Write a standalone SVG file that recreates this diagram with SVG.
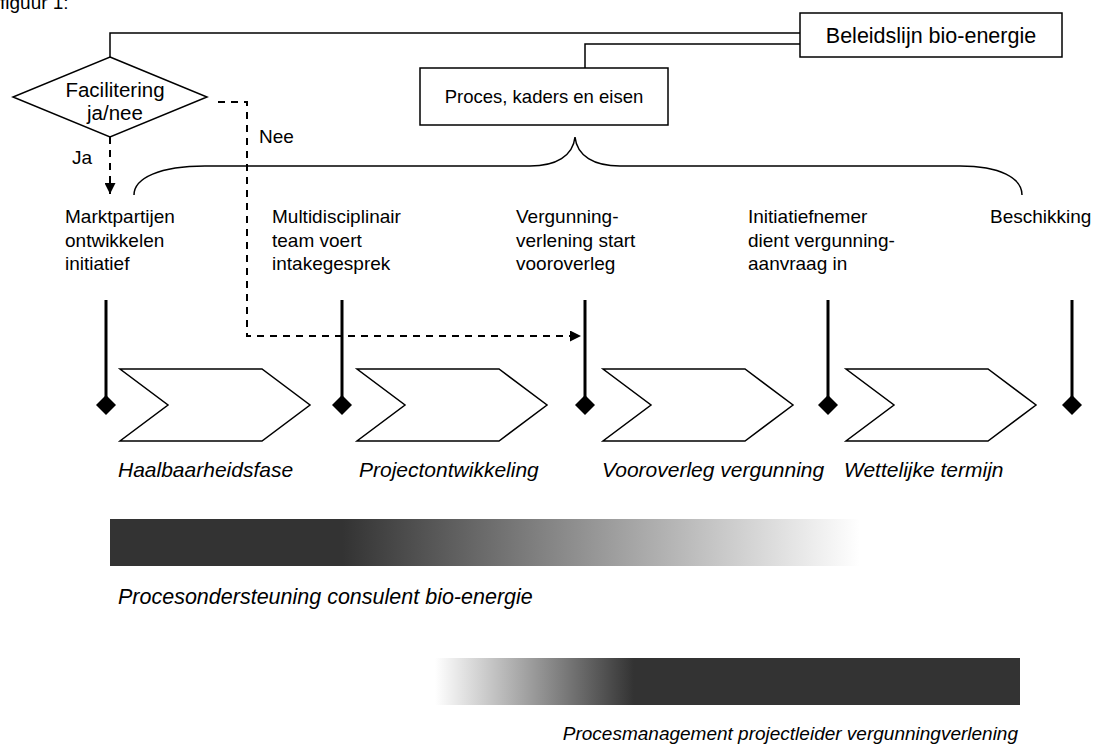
<svg xmlns="http://www.w3.org/2000/svg" width="1116" height="747" viewBox="0 0 1116 747">
<defs>
<style>
.t{font-family:"Liberation Sans",Arial,sans-serif;font-size:19px;fill:#000}
.i{font-family:"Liberation Sans",Arial,sans-serif;font-size:21px;font-style:italic;fill:#000}
.box{fill:#fff;stroke:#000;stroke-width:1.5}
.ln{fill:none;stroke:#000;stroke-width:1.5}
.dash{fill:none;stroke:#000;stroke-width:2;stroke-dasharray:7,6}
.thick{fill:none;stroke:#000;stroke-width:3}
.chev{fill:#fff;stroke:#000;stroke-width:1.5}
</style>
<marker id="arr" viewBox="0 0 10 10" refX="10" refY="5" markerWidth="11" markerHeight="11" markerUnits="userSpaceOnUse" orient="auto">
<path d="M0,0 L10,5 L0,10 Z" fill="#000"/>
</marker>
<marker id="dia" viewBox="0 0 20 20" refX="10" refY="10" markerWidth="20" markerHeight="20" markerUnits="userSpaceOnUse" orient="0">
<path d="M10,0 L20,10 L10,20 L0,10 Z" fill="#000"/>
</marker>
<linearGradient id="g1" x1="110" y1="0" x2="860" y2="0" gradientUnits="userSpaceOnUse">
<stop offset="0" stop-color="#333"/>
<stop offset="0.31" stop-color="#333"/>
<stop offset="1" stop-color="#fff"/>
</linearGradient>
<linearGradient id="g2" x1="435" y1="0" x2="1020" y2="0" gradientUnits="userSpaceOnUse">
<stop offset="0" stop-color="#fff"/>
<stop offset="0.34" stop-color="#333"/>
<stop offset="1" stop-color="#333"/>
</linearGradient>
</defs>
<rect width="1116" height="747" fill="#fff"/>
<text class="t" x="0" y="9" style="font-size:19px">figuur 1:</text>

<g id="connectors">
<path class="ln" d="M110,57 V33 H800"/>
<path class="ln" d="M800,44 H585 V68"/>
<path class="ln" d="M134,195 C134,178 160,166 205,166 H530 C556,166 573,156 575,137 C577,156 594,166 620,166 H960 C1000,166 1022,178 1022,195"/>
<path class="dash" d="M110,137 V194" marker-end="url(#arr)"/>
<path class="dash" d="M218,102 H247 V336 H581" marker-end="url(#arr)"/>
<text class="t" x="72" y="164">Ja</text>
<text class="t" x="259" y="143">Nee</text>
</g>

<g id="beleidslijn">
<rect class="box" x="800" y="13" width="262" height="44"/>
<text class="t" x="931" y="43" text-anchor="middle" style="font-size:21.5px">Beleidslijn bio-energie</text>
</g>
<g id="proces">
<rect class="box" x="420" y="68" width="248" height="57"/>
<text class="t" x="544" y="103" text-anchor="middle" style="font-size:18.5px">Proces, kaders en eisen</text>
</g>
<g id="facilitering">
<path class="box" d="M110,57 L207,97 L110,137 L13,97 Z"/>
<text class="t" x="115" y="97" text-anchor="middle" style="font-size:20.5px">Facilitering</text>
<text class="t" x="115" y="120" text-anchor="middle" style="font-size:20.5px">ja/nee</text>
</g>

<g id="m1">
<text class="t" x="65" y="223">Marktpartijen<tspan x="65" dy="23.5">ontwikkelen</tspan><tspan x="65" dy="23.5">initiatief</tspan></text>
<path class="thick" d="M106,300 V405" marker-end="url(#dia)"/>
</g>
<g id="m2">
<text class="t" x="272" y="223">Multidisciplinair<tspan x="272" dy="23.5">team voert</tspan><tspan x="272" dy="23.5">intakegesprek</tspan></text>
<path class="thick" d="M342,300 V405" marker-end="url(#dia)"/>
</g>
<g id="m3">
<text class="t" x="516" y="223">Vergunning-<tspan x="516" dy="23.5">verlening start</tspan><tspan x="516" dy="23.5">vooroverleg</tspan></text>
<path class="thick" d="M585,300 V405" marker-end="url(#dia)"/>
</g>
<g id="m4">
<text class="t" x="748" y="223">Initiatiefnemer<tspan x="748" dy="23.5">dient vergunning-</tspan><tspan x="748" dy="23.5">aanvraag in</tspan></text>
<path class="thick" d="M828,300 V405" marker-end="url(#dia)"/>
</g>
<g id="m5">
<text class="t" x="990" y="223">Beschikking</text>
<path class="thick" d="M1072,300 V405" marker-end="url(#dia)"/>
</g>

<g id="fase1">
<path class="chev" d="M120,369 H262 L310,405 L262,441 H120 L168,405 Z"/>
<text class="i" x="118" y="477">Haalbaarheidsfase</text>
</g>
<g id="fase2">
<path class="chev" d="M357,369 H499 L547,405 L499,441 H357 L405,405 Z"/>
<text class="i" x="359" y="477">Projectontwikkeling</text>
</g>
<g id="fase3">
<path class="chev" d="M603,369 H745 L793,405 L745,441 H603 L651,405 Z"/>
<text class="i" x="602" y="477">Vooroverleg vergunning</text>
</g>
<g id="fase4">
<path class="chev" d="M846,369 H988 L1036,405 L988,441 H846 L894,405 Z"/>
<text class="i" x="844" y="477">Wettelijke termijn</text>
</g>

<g id="bar1">
<rect x="110" y="519" width="750" height="47" fill="url(#g1)"/>
<text class="i" x="118" y="604" style="font-size:21.5px">Procesondersteuning consulent bio-energie</text>
</g>
<g id="bar2">
<rect x="435" y="658" width="585" height="47" fill="url(#g2)"/>
<text class="i" x="1018" y="740" text-anchor="end" style="font-size:19px">Procesmanagement projectleider vergunningverlening</text>
</g>
</svg>
